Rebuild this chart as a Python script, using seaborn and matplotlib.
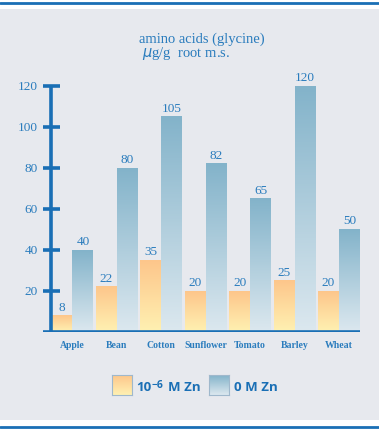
import numpy as np
import pandas as pd
import matplotlib.pyplot as plt
import seaborn as sns
from matplotlib.colors import LinearSegmentedColormap
from matplotlib.patches import Rectangle
from matplotlib.lines import Line2D

plants = ['Apple', 'Bean', 'Cotton', 'Sunflower', 'Tomato', 'Barley', 'Wheat']
zn_low = [8, 22, 35, 20, 20, 25, 20]      # 10^-6 M Zn
zn_zero = [40, 80, 105, 82, 65, 120, 50]  # 0 M Zn
y_ticks = [20, 40, 60, 80, 100, 120]
series = ['1e-6 M Zn', '0 M Zn']

BLUE = '#1a6fb5'
TXT = '#2a7cbd'
PANEL = '#e7e9ee'
SANS = ['Open Sans', 'DejaVu Sans']

df = pd.DataFrame({
    'plant': plants * 2,
    'value': zn_low + zn_zero,
    'series': [series[0]] * len(plants) + [series[1]] * len(plants),
})

sns.set_style('white')
plt.rcParams['font.family'] = ['Liberation Serif', 'DejaVu Serif']

fig = plt.figure(figsize=(3.79, 4.31), dpi=100)
fig.patch.set_facecolor('white')

# background panel and frame lines
fig.patches.append(Rectangle((0, 10 / 431), 1, 1 - 20 / 431, transform=fig.transFigure,
                             facecolor=PANEL, edgecolor='none', zorder=-5))
fig.lines.append(Line2D([0, 1], [1 - 3.5 / 431] * 2, transform=fig.transFigure, color=BLUE, lw=2))
fig.lines.append(Line2D([0, 1], [3 / 431] * 2, transform=fig.transFigure, color=BLUE, lw=2))

ax = fig.add_axes([43 / 379, 1 - 333 / 431, 317 / 379, (333 - 87) / 431 * 128 / 120])
ax.set_facecolor('none')

sns.barplot(data=df, x='plant', y='value', hue='series', hue_order=series,
            palette=['#fdd59a', '#a9c9da'], width=0.94, legend=False, ax=ax)

cmaps = [
    LinearSegmentedColormap.from_list('o', ['#fff1b2', '#fdc68b']),
    LinearSegmentedColormap.from_list('b', ['#dce8ef', '#83b3ca']),
]
grad = np.linspace(0, 1, 128).reshape(-1, 1)

for cont, cmap in zip(ax.containers, cmaps):
    for bar in cont:
        x0, y0 = bar.get_x(), bar.get_y()
        w, h = bar.get_width(), bar.get_height()
        bar.set_visible(False)
        ax.imshow(grad, extent=[x0, x0 + w, y0, y0 + h], origin='lower',
                  aspect='auto', cmap=cmap, zorder=2)
        ax.text(x0 + w / 2, y0 + h + 1.5, f'{int(h)}', ha='center', va='bottom',
                color=TXT, fontsize=9.5)

ax.set_xlim(-0.664, 6.475)
ax.set_ylim(0, 128)
ax.axis('off')

# axes drawn by hand
y_axis_x = -0.484
ax.plot([y_axis_x, y_axis_x], [0, 120], color=BLUE, lw=2.6, solid_capstyle='butt', zorder=3)
ax.plot([-0.664, 6.475], [0, 0], color=BLUE, lw=2.6, solid_capstyle='butt', zorder=3)
for t in y_ticks:
    ax.plot([y_axis_x - 0.17, y_axis_x + 0.2], [t, t], color=BLUE, lw=2.6,
            solid_capstyle='butt', zorder=3)
    ax.text(y_axis_x - 0.3, t, str(t), ha='right', va='center', color=TXT, fontsize=9.5)
for i, p in enumerate(plants):
    ax.text(i, -4, p, ha='center', va='top', color=TXT, fontsize=7, fontweight='bold')

fig.text(202 / 379, 1 - 39 / 431, 'amino acids (glycine)', ha='center', va='center',
         color=TXT, fontsize=10.5)
fig.text(186 / 379, 1 - 53 / 431, '$\\mu$g/g  root m.s.', ha='center', va='center',
         color=TXT, fontsize=10.5)

# legend with gradient boxes
for lx, cmap in zip([112, 209], cmaps):
    lax = fig.add_axes([lx / 379, 1 - 396 / 431, 20 / 379, 20 / 431])
    lax.imshow(grad, origin='lower', aspect='auto', cmap=cmap, extent=[0, 1, 0, 1])
    lax.set_xticks([])
    lax.set_yticks([])
    for s in lax.spines.values():
        s.set_color('#9fb8cc')
        s.set_linewidth(0.8)

ly = 1 - 391 / 431
lab = dict(color=BLUE, fontweight='bold', family=SANS)
t10 = fig.text(136 / 379, ly, '10', ha='left', va='baseline', fontsize=9.5, **lab)
sup = fig.text(0, 0, '\u22126', ha='left', va='baseline', fontsize=7.5, **lab)
sup.remove()
sup = plt.annotate('\u22126', xy=(1, 0), xycoords=t10, xytext=(0.5, 4.5),
                   textcoords='offset points', ha='left', va='baseline',
                   fontsize=7.5, **lab)
plt.annotate('M Zn', xy=(1, 0), xycoords=(sup, t10), xytext=(3, 0),
             textcoords='offset points', ha='left', va='bottom',
             fontsize=9.5, **lab)
fig.text(234 / 379, ly, '0 M Zn', ha='left', va='baseline', fontsize=9.5, **lab)

fig.savefig('out.png', dpi=100)
